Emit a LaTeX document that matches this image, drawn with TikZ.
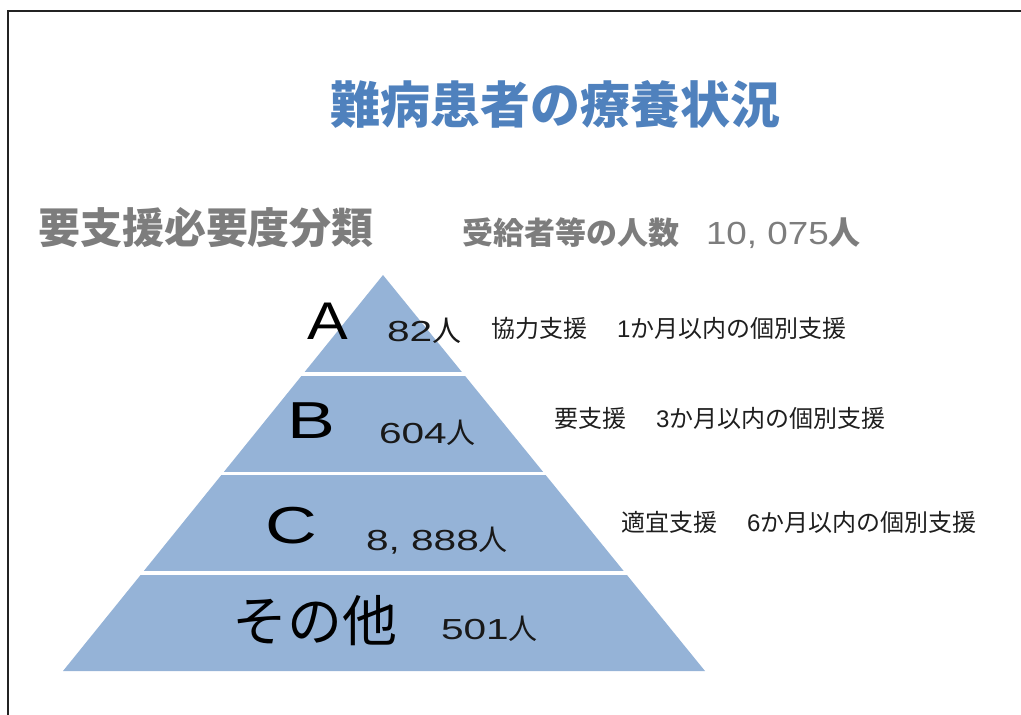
\documentclass[tikz,border=0pt]{standalone}
\usepackage{fontspec}
\setmainfont{Noto Sans CJK JP}
\newfontfamily\lat{Liberation Sans}
\newfontfamily\latnum[FakeStretch=1.15]{Liberation Sans}
\newfontfamily\cntnum[FakeStretch=1.4]{Liberation Sans}
\newfontfamily\gradeAfont[FakeStretch=1.15]{Liberation Sans}
\newfontfamily\gradeBCfont[FakeStretch=1.38]{Liberation Sans}
\definecolor{titleblue}{RGB}{79,129,189}
\definecolor{subgray}{RGB}{125,125,125}
\definecolor{pyrblue}{RGB}{149,179,215}
\definecolor{framegray}{RGB}{35,35,35}
\definecolor{labelblack}{RGB}{30,30,30}
\begin{document}
\begin{tikzpicture}[x=1pt,y=-1pt,
  every node/.style={inner sep=0pt,outer sep=0pt},
  lbl/.style={anchor=west,text=labelblack,font=\fontsize{24}{24}\selectfont},
  grade/.style={anchor=center,text=black},
  cnt/.style={anchor=west,text=black!90,font=\fontsize{29}{29}\selectfont},
  sepline/.style={draw=white,line width=3.5pt}]
\useasboundingbox (0,0) rectangle (1021,715);
% frame
\draw[framegray,line width=1.5pt] (8,715) -- (8,11) -- (1021,11);
% titles
\node[anchor=center,text=titleblue,font=\fontsize{50}{50}\selectfont\bfseries] (title) at (555,104.5) {難病患者の療養状況};
\node[anchor=west,text=subgray,font=\fontsize{42}{42}\selectfont\bfseries] (sub) at (38,228) {要支援必要度分類};
\node[anchor=west,text=subgray,font=\fontsize{31}{31}\selectfont\bfseries] (total) at (462,233) {受給者等の人数};
\node[anchor=west,text=subgray,font=\fontsize{32}{32}\selectfont] (totalnum) at (706,233) {{\latnum\fontsize{32}{32}\selectfont 10, 075}{\bfseries 人}};
% pyramid
\coordinate (apex) at (383,275);
\coordinate (bl) at (63,671);
\coordinate (br) at (705,671);
\fill[pyrblue] (apex) -- (br) -- (bl) -- cycle;
\draw[sepline] (250,374) -- (520,374);
\draw[sepline] (150,473.5) -- (620,473.5);
\draw[sepline] (60,573) -- (720,573);
% grades
\node[grade,font=\gradeAfont\fontsize{53}{53}\selectfont] (gA) at (328,321) {A};
\node[grade,font=\gradeBCfont\fontsize{52}{52}\selectfont] (gB) at (311,421) {B};
\node[grade,font=\gradeBCfont\fontsize{52}{52}\selectfont] (gC) at (291,526) {C};
\node[anchor=center,text=black,font=\fontsize{55}{55}\selectfont] (gD) at (315,621) {その他};
% counts
\node[cnt] (nA) at (387,331) {{\cntnum 82}人};
\node[cnt] (nB) at (379,433) {{\cntnum 604}人};
\node[cnt] (nC) at (366,541) {{\cntnum 8, 888}人};
\node[cnt] (nD) at (441,629) {{\cntnum 501}人};
% labels
\node[lbl] (lA) at (491,328) {協力支援\hspace{30pt}{\lat 1}か月以内の個別支援};
\node[lbl] (lB) at (554,418) {要支援\hspace{30pt}{\lat 3}か月以内の個別支援};
\node[lbl] (lC) at (621,522) {適宜支援\hspace{30pt}{\lat 6}か月以内の個別支援};
\end{tikzpicture}
\end{document}
